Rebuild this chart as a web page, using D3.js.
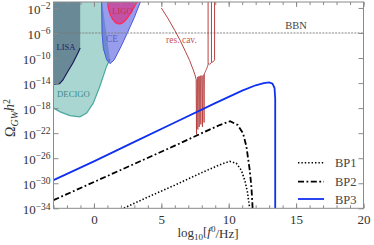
<!DOCTYPE html>
<html>
<head>
<meta charset="utf-8">
<script src="https://cdn.jsdelivr.net/npm/d3@7"></script>
<style>
body { margin: 0; background: #fff; }
svg { display: block; font-family: "Liberation Serif", serif; }
</style>
</head>
<body>
<svg id="chart" width="374" height="245"></svg>
<script>
// benchmark points: log10(f/Hz) vs log10(Omega h^2)
var bp1X = [2.0, 4, 6, 8, 9.5, 10.07, 10.56, 10.93, 11.19, 11.38, 11.5, 11.56, 11.6];
var bp1Y = [-34.2, -32.2, -30.3, -28.3, -26.9, -26.5, -26.8, -27.9, -29.5, -31.3, -33.2, -34.0, -34.5];
var bp2X = [-3, 0, 3, 6, 8, 9.33, 10.1, 10.67, 11.06, 11.31, 11.56, 11.68, 11.75, 11.78];
var bp2Y = [-32.7, -29.8, -26.9, -24.0, -22.0, -20.7, -20.1, -20.7, -22.0, -24.1, -27.9, -30.5, -33.0, -34.5];
var bp3X = [-3, 0, 3, 6, 9, 11, 12, 12.6, 13.0, 13.25, 13.4, 13.45, 13.45];
var bp3Y = [-29.5, -26.5, -23.4, -20.3, -17.2, -15.2, -14.35, -14.0, -13.9, -14.1, -14.8, -16.5, -34.5];

// detector sensitivity regions
var decigoX = [-3, -3, -2.5, -1.78, -1.04, -0.54, -0.05, 0.44, 0.94, 1.19, 0.6];
var decigoY = [-1, -18.0, -18.6, -19.2, -19.4, -18.8, -17.2, -14.5, -11.3, -10.2, -1];
var lisaX = [-3.0, -2.55, -2.3, -1.93, -1.56, -1.19, -1.02];
var lisaY = [-14.16, -14.1, -13.5, -12.1, -10.8, -9.2, -8.4];
var ceX = [0.57, 0.6, 0.7, 0.95, 1.2, 1.5, 2.0, 2.5, 3.0, 3.45];
var ceY = [-1, -6, -8.5, -10.3, -10.9, -10.3, -8.2, -5.9, -3.5, -1];
var ligoX = [1.0, 1.1, 1.35, 1.75, 2.2, 2.6, 3.0, 3.2];
var ligoY = [-1, -2.5, -3.8, -4.7, -4.4, -3.3, -1.8, -1];

// resonant cavity curve
var resLeftX = [5.0, 5.5, 6.0, 6.4, 6.8, 7.1, 7.35, 7.5, 7.58];
var resLeftY = [-2.0, -3.7, -5.6, -7.2, -9.0, -10.4, -11.8, -12.7, -13.4];
var resSpikeX = [7.58, 7.68, 7.78, 7.9, 8.02, 8.14];
var resSpikeTop = [-13.4, -13.0, -12.9, -12.8, -12.8, -12.6];
var resSpikeBottom = [-22.2, -21.4, -21.0, -20.6, -21.0, -20.3];
var resRightX = [8.18, 8.3, 8.38, 8.45, 8.47, 8.6, 8.72, 8.85, 8.95];
var resRightY = [-12.6, -12.0, -11.6, -11.2, -10.9, -11.0, -10.7, -10.6, -10.3];
var resTopX = [8.47, 8.72, 8.95];
var resTopFrom = [-10.9, -10.7, -10.3];

var bbnLevel = -6;
var xTicksMajor = [0, 5, 10, 15, 20];
var yTicks = [-34, -30, -26, -22, -18, -14, -10, -6, -2];
var legendNames = ["BP1", "BP2", "BP3"];

var svg = d3.select("#chart");
var x = d3.scaleLinear().domain([-3, 20]).range([53.5, 363.5]);
var y = d3.scaleLinear().domain([-34, -1.05]).range([208.3, 2]);

var pts = function(xs, ys) { return xs.map(function(d, i) { return [x(d), y(ys[i])]; }); };
var line = d3.line();

svg.append("clipPath").attr("id", "clip").append("rect")
    .attr("x", x(-3)).attr("y", y(-1.05))
    .attr("width", x(20) - x(-3)).attr("height", y(-34) - y(-1.05));

var plot = svg.append("g").attr("clip-path", "url(#clip)");

// regions
plot.append("path").attr("d", line(pts(decigoX, decigoY)) + "Z")
    .attr("fill", "#a9d6d0").attr("stroke", "none");
plot.append("path").attr("d", line(pts(decigoX.slice(1, 10), decigoY.slice(1, 10))))
    .attr("fill", "none").attr("stroke", "#4aa99e").attr("stroke-width", 1.2);

var lisaPoly = pts(lisaX, lisaY).concat([[x(-1.02), y(-1)], [x(-3), y(-1)]]);
plot.append("path").attr("d", line(lisaPoly) + "Z")
    .attr("fill", "rgba(40,60,90,0.5)");
plot.append("path").attr("d", line(pts(lisaX, lisaY)))
    .attr("fill", "none").attr("stroke", "#1c1c5c").attr("stroke-width", 1.2);

plot.append("path").attr("d", line(pts(ceX, ceY)))
    .attr("fill", "rgba(50,60,215,0.5)").attr("stroke", "#4a55e0").attr("stroke-width", 1);

plot.append("path").attr("d", line.curve(d3.curveBasis)(pts(ligoX, ligoY)))
    .attr("fill", "rgba(230,20,110,0.55)").attr("stroke", "#ff2a5a").attr("stroke-width", 1.4);
line.curve(d3.curveLinear);

// BBN
plot.append("line").attr("x1", x(-3)).attr("x2", x(20))
    .attr("y1", y(bbnLevel)).attr("y2", y(bbnLevel))
    .attr("stroke", "#777").attr("stroke-width", 0.9).attr("stroke-dasharray", "2,1.2");

// resonant cavity
var resColor = "#ad2f2f";
plot.append("path").attr("d", line(pts(resLeftX, resLeftY)))
    .attr("fill", "none").attr("stroke", resColor).attr("stroke-width", 0.9);
resSpikeX.forEach(function(d, i) {
  var p = [[x(d), y(resSpikeTop[i])], [x(d + 0.03), y(resSpikeBottom[i])], [x(d + 0.06), y(resSpikeTop[i])]];
  plot.append("path").attr("d", line(p))
      .attr("fill", "none").attr("stroke", resColor).attr("stroke-width", 0.75);
});
plot.append("path").attr("d", line(pts(resRightX, resRightY)))
    .attr("fill", "none").attr("stroke", resColor).attr("stroke-width", 0.8);
resTopX.forEach(function(d, i) {
  plot.append("line").attr("x1", x(d)).attr("x2", x(d))
      .attr("y1", y(resTopFrom[i])).attr("y2", y(-1))
      .attr("stroke", resColor).attr("stroke-width", 0.9);
});

// benchmark curves
plot.append("path").attr("d", line(pts(bp1X, bp1Y)))
    .attr("fill", "none").attr("stroke", "#000").attr("stroke-width", 1.6)
    .attr("stroke-dasharray", "1.4,2").attr("stroke-linecap", "butt");
plot.append("path").attr("d", line(pts(bp2X, bp2Y)))
    .attr("fill", "none").attr("stroke", "#000").attr("stroke-width", 1.8)
    .attr("stroke-dasharray", "6,2.5,1.8,2.5");
plot.append("path").attr("d", line(pts(bp3X, bp3Y)))
    .attr("fill", "none").attr("stroke", "#1030f0").attr("stroke-width", 1.8);

// region labels
var lab = function(t, cx, cy, size, col) {
  svg.append("text").attr("x", cx).attr("y", cy).attr("text-anchor", "middle")
      .attr("font-size", size).attr("fill", col).text(t);
};
lab("LIGO", 122.5, 13.5, 8.5, "#d42a4e");
lab("CE", 112, 41.5, 9.5, "#5a67b8");
lab("LISA", 66, 50, 8.5, "#23236a");
lab("DECIGO", 73.5, 96.5, 8.7, "#3c8a8c");
lab("res. cav.", 181.5, 43, 9.5, "#c65454");
lab("BBN", 296, 29, 10.5, "#444");

// axes
var axisColor = "#8a8a8a";
function styleAxis(g) {
  g.select(".domain").remove();
  g.selectAll(".tick line").attr("stroke", axisColor);
  g.selectAll(".tick text").attr("fill", "#333").attr("font-size", 13)
      .attr("font-family", "Liberation Serif, serif");
}
svg.append("g").attr("transform", "translate(0," + y(-34) + ")")
    .call(d3.axisBottom(x).tickValues(d3.range(-3, 21)).tickSize(-3).tickFormat(""))
    .call(styleAxis);
svg.append("g").attr("transform", "translate(0," + y(-34) + ")")
    .call(d3.axisBottom(x).tickValues(xTicksMajor).tickSize(-5).tickPadding(6).tickFormat(d3.format("d")))
    .call(styleAxis);
svg.append("g").attr("transform", "translate(0," + y(-1.05) + ")")
    .call(d3.axisTop(x).tickValues(d3.range(-3, 21)).tickSize(-3).tickFormat(""))
    .call(styleAxis);
svg.append("g").attr("transform", "translate(0," + y(-1.05) + ")")
    .call(d3.axisTop(x).tickValues(xTicksMajor).tickSize(-5).tickFormat(""))
    .call(styleAxis);
svg.append("g").attr("transform", "translate(" + x(20) + ",0)")
    .call(d3.axisRight(y).tickValues(yTicks).tickSize(-5).tickFormat(""))
    .call(styleAxis);
var yAx = svg.append("g").attr("transform", "translate(" + x(-3) + ",0)")
    .call(d3.axisLeft(y).tickValues(yTicks).tickSize(-5).tickPadding(3))
    .call(styleAxis);
yAx.selectAll(".tick text").each(function(d) {
  var t = d3.select(this).text(null).attr("dy", "0.42em");
  t.append("tspan").text("10");
  t.append("tspan").attr("dy", "-0.5em").attr("font-size", 9.5).text("\u2212" + Math.abs(d));
});

svg.append("rect").attr("x", x(-3)).attr("y", y(-1.05))
    .attr("width", x(20) - x(-3)).attr("height", y(-34) - y(-1.05))
    .attr("fill", "none").attr("stroke", axisColor).attr("stroke-width", 1);

// axis titles
var xt = svg.append("text").attr("x", 208).attr("y", 237).attr("text-anchor", "middle")
    .attr("font-size", 13).attr("fill", "#333");
xt.append("tspan").text("log");
xt.append("tspan").attr("font-size", 9).attr("dy", "0.3em").text("10");
xt.append("tspan").attr("dy", "-0.3em").text("[");
xt.append("tspan").attr("font-style", "italic").text("f");
xt.append("tspan").attr("font-size", 9).attr("dy", "-0.45em").text("0");
xt.append("tspan").attr("dy", "0.45em").text("/Hz]");

var yt = svg.append("text").attr("transform", "translate(15,118) rotate(-90)")
    .attr("text-anchor", "middle").attr("font-size", 14).attr("fill", "#333");
yt.append("tspan").text("\u03A9");
yt.append("tspan").attr("font-size", 10).attr("font-style", "italic").attr("dy", "0.3em").text("GW");
yt.append("tspan").attr("font-style", "italic").attr("dy", "-0.3em").text("h");
yt.append("tspan").attr("font-size", 10).attr("dy", "-0.4em").text("2");

// legend
var legY = [162.7, 181.7, 199];
var legStyle = [
  {stroke: "#000", dash: "1.4,2", w: 1.6},
  {stroke: "#000", dash: "6,2.5,1.8,2.5", w: 1.8},
  {stroke: "#1030f0", dash: null, w: 1.8}
];
legendNames.forEach(function(n, i) {
  svg.append("line").attr("x1", 298).attr("x2", 324).attr("y1", legY[i]).attr("y2", legY[i])
      .attr("stroke", legStyle[i].stroke).attr("stroke-width", legStyle[i].w)
      .attr("stroke-dasharray", legStyle[i].dash);
  svg.append("text").attr("x", 335).attr("y", legY[i] + 4.5).attr("font-size", 12.5)
      .attr("fill", "#444").text(n);
});
</script>
</body>
</html>
